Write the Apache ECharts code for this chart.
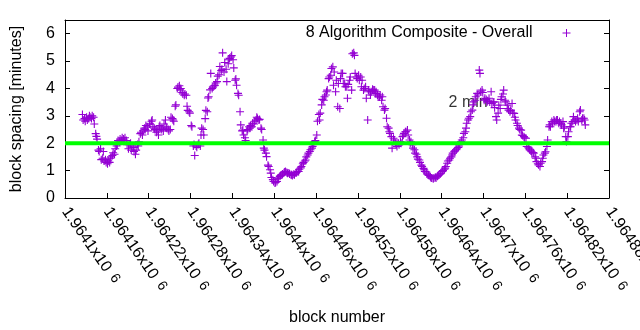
<!DOCTYPE html>
<html>
<head>
<meta charset="utf-8">
<script src="https://cdn.jsdelivr.net/npm/echarts@6/dist/echarts.min.js"></script>
<style>
  html, body { margin: 0; padding: 0; background: #fff; }
  #chart { width: 640px; height: 330px; }
</style>
</head>
<body>
<div id="chart"></div>
<script>
// Block spacing (minutes) of the 8-algorithm composite, per block.
const SERIES_NAME = '8 Algorithm Composite - Overall';

const blockNumbers = [
  1964125,1964126,1964128,1964129,1964131,1964132,1964134,
  1964135,1964136,1964138,1964139,1964141,1964142,1964144,
  1964145,1964146,1964148,1964149,1964151,1964152,1964154,
  1964155,1964156,1964158,1964159,1964161,1964162,1964164,
  1964165,1964166,1964168,1964169,1964171,1964172,1964174,
  1964175,1964176,1964178,1964179,1964181,1964182,1964184,
  1964185,1964186,1964188,1964189,1964191,1964192,1964194,
  1964195,1964196,1964198,1964199,1964201,1964202,1964204,
  1964205,1964206,1964208,1964209,1964211,1964212,1964214,
  1964215,1964216,1964218,1964219,1964221,1964222,1964224,
  1964225,1964226,1964228,1964229,1964231,1964232,1964234,
  1964235,1964236,1964238,1964239,1964241,1964242,1964244,
  1964245,1964246,1964248,1964249,1964251,1964252,1964254,
  1964255,1964256,1964258,1964259,1964261,1964262,1964264,
  1964265,1964266,1964268,1964269,1964271,1964272,1964274,
  1964275,1964276,1964278,1964279,1964281,1964282,1964284,
  1964285,1964286,1964288,1964289,1964291,1964292,1964294,
  1964295,1964296,1964298,1964299,1964301,1964302,1964304,
  1964305,1964306,1964308,1964309,1964311,1964312,1964314,
  1964315,1964316,1964318,1964319,1964321,1964322,1964324,
  1964325,1964326,1964328,1964329,1964331,1964332,1964334,
  1964335,1964336,1964338,1964339,1964341,1964342,1964344,
  1964345,1964346,1964348,1964349,1964351,1964352,1964354,
  1964355,1964356,1964358,1964359,1964361,1964362,1964364,
  1964365,1964366,1964368,1964369,1964371,1964372,1964374,
  1964375,1964376,1964378,1964379,1964381,1964382,1964384,
  1964385,1964386,1964388,1964389,1964391,1964392,1964394,
  1964395,1964396,1964398,1964399,1964401,1964402,1964404,
  1964405,1964406,1964408,1964409,1964411,1964412,1964414,
  1964415,1964416,1964418,1964419,1964421,1964422,1964424,
  1964425,1964426,1964428,1964429,1964431,1964432,1964434,
  1964435,1964436,1964438,1964439,1964441,1964442,1964444,
  1964445,1964446,1964448,1964449,1964451,1964452,1964454,
  1964455,1964456,1964458,1964459,1964461,1964462,1964464,
  1964465,1964466,1964468,1964469,1964471,1964472,1964474,
  1964475,1964476,1964478,1964479,1964481,1964482,1964484,
  1964485,1964486,1964488,1964489,1964491,1964492,1964494,
  1964495,1964496,1964498,1964499,1964501,1964502,1964504,
  1964505,1964506,1964508,1964509,1964511,1964512,1964514,
  1964515,1964516,1964518,1964519,1964521,1964522,1964524,
  1964525,1964526,1964528,1964529,1964531,1964532,1964534,
  1964535,1964536,1964538,1964539,1964541,1964542,1964544,
  1964545,1964546,1964548,1964549,1964551,1964552,1964554,
  1964555,1964556,1964558,1964559,1964561,1964562,1964564,
  1964565,1964566,1964568,1964569,1964571,1964572,1964574,
  1964575,1964576,1964578,1964579,1964581,1964582,1964584,
  1964585,1964586,1964588,1964589,1964591,1964592,1964594,
  1964595,1964596,1964598,1964599,1964601,1964602,1964604,
  1964605,1964606,1964608,1964609,1964611,1964612,1964614,
  1964615,1964616,1964618,1964619,1964621,1964622,1964624,
  1964625,1964626,1964628,1964629,1964631,1964632,1964634,
  1964635,1964636,1964638,1964639,1964641,1964642,1964644,
  1964645,1964646,1964648,1964649,1964651,1964652,1964654,
  1964655,1964656,1964658,1964659,1964661,1964662,1964664,
  1964665,1964666,1964668,1964669,1964671,1964672,1964674,
  1964675,1964676,1964678,1964679,1964681,1964682,1964684,
  1964685,1964686,1964688,1964689,1964691,1964692,1964694,
  1964695,1964696,1964698,1964699,1964701,1964702,1964704,
  1964705,1964706,1964708,1964709,1964711,1964712,1964714,
  1964715,1964716,1964718,1964719,1964721,1964722,1964724,
  1964725,1964726,1964728,1964729,1964731,1964732,1964734,
  1964735,1964736,1964738,1964739,1964741,1964742,1964744,
  1964745,1964746,1964748,1964749,1964751,1964752,1964754,
  1964755,1964756,1964758,1964759,1964761,1964762,1964764,
  1964765,1964766,1964768,1964769,1964771,1964772,1964774,
  1964775,1964776,1964778,1964779,1964781,1964782,1964784,
  1964785,1964786,1964788,1964789,1964791,1964792,1964794,
  1964795,1964796,1964798,1964799,1964801,1964802,1964804,
  1964805,1964806,1964808,1964809,1964811,1964812,1964814,
  1964815,1964816,1964818,1964819,1964821,1964822,1964824,
  1964825,1964826,1964828,1964829,1964831,1964832,1964834,
  1964835,1964836,1964838,1964839,1964841,1964842,1964844,
  1964845,1964846
];

const spacingMinutes = [
  3.05,2.85,2.9,2.8,2.95,2.85,2.9,
  3.0,2.95,2.9,3.0,2.95,2.7,2.35,
  2.25,2.15,1.75,1.7,1.8,1.4,1.45,
  1.7,1.35,1.4,1.3,1.25,1.35,1.3,
  1.45,1.5,1.55,1.65,1.6,1.8,1.9,
  1.95,2.1,2.05,2.15,2.1,2.2,2.15,
  2.1,2.2,2.1,1.95,1.8,1.95,2.0,
  1.75,1.9,1.85,1.7,1.6,1.75,1.95,
  1.9,2.05,2.35,2.4,2.3,2.45,2.55,
  2.5,2.65,2.6,2.45,2.7,2.7,2.8,
  2.85,2.6,2.55,2.5,2.4,2.45,2.3,
  2.6,2.65,2.5,2.55,2.45,2.7,2.85,
  2.6,2.55,2.5,2.45,2.5,2.95,2.9,
  2.85,2.8,3.35,3.4,4.0,4.05,4.1,
  3.95,4.0,3.85,3.8,3.75,3.8,3.75,
  3.35,3.2,3.15,3.1,2.65,2.6,1.9,
  1.95,1.55,1.9,1.85,1.95,2.0,1.9,
  2.3,2.55,2.5,2.3,2.9,3.2,3.15,
  3.65,3.7,3.95,4.55,4.0,4.05,4.1,
  4.12,4.2,4.25,4.45,4.5,4.8,4.65,
  4.7,5.3,4.6,4.95,4.7,4.25,4.9,
  5.05,5.1,5.15,5.2,5.05,4.75,4.3,
  4.35,4.12,3.82,3.75,3.15,2.67,2.45,
  2.48,2.3,2.2,2.1,2.45,2.5,2.6,
  2.55,2.65,2.6,2.73,2.7,2.8,2.85,
  2.95,2.9,2.85,2.87,2.55,2.5,2.12,
  1.82,1.75,1.64,1.51,1.2,1.15,1.03,
  0.91,0.75,0.67,0.6,0.55,0.57,0.6,
  0.72,0.73,0.79,0.82,0.85,0.88,0.92,
  0.95,0.97,0.93,0.9,0.91,0.88,0.85,
  0.85,0.82,0.87,0.85,0.91,0.93,0.97,
  0.97,1.05,1.1,1.15,1.25,1.3,1.35,
  1.39,1.5,1.57,1.64,1.7,1.76,1.82,
  1.88,1.95,2.06,2.1,2.3,2.8,3.05,
  2.85,3.1,3.4,3.6,3.57,3.7,3.76,
  3.88,3.94,4.36,4.42,4.48,4.73,4.79,
  4.12,4.6,3.88,4.3,3.33,4.18,3.27,
  4.36,4.55,4.55,4.18,4.18,4.06,4.06,
  3.64,4.15,4.3,4.42,3.94,5.27,5.3,
  5.21,4.55,4.42,4.36,4.48,4.3,4.42,
  4.06,4.3,3.94,4.0,4.06,3.64,2.85,
  3.94,3.88,3.76,3.88,3.97,3.94,3.94,
  3.82,3.88,3.76,3.7,3.69,3.76,3.57,
  3.7,3.33,3.21,3.27,2.91,2.6,2.55,
  2.42,2.36,2.24,1.82,2.18,2.12,2.0,
  1.94,1.88,2.0,1.94,2.06,2.0,2.24,
  2.3,2.36,2.42,2.42,2.48,2.3,2.12,
  2.0,2.05,1.95,1.82,1.76,1.64,1.6,
  1.5,1.42,1.39,1.3,1.2,1.15,1.08,
  1.03,0.97,0.95,0.88,0.85,0.82,0.78,
  0.73,0.73,0.7,0.73,0.76,0.73,0.79,
  0.82,0.85,0.88,0.91,0.97,1.0,1.05,
  1.09,1.15,1.27,1.35,1.39,1.45,1.5,
  1.57,1.64,1.69,1.72,1.76,1.8,1.85,
  1.9,2.0,2.06,2.12,2.2,2.36,2.42,
  2.55,2.73,2.85,2.91,2.97,3.15,3.21,
  3.4,3.51,3.57,3.7,3.82,3.76,4.67,
  4.55,3.88,3.94,3.85,3.57,3.64,3.6,
  3.51,3.55,3.64,3.51,3.88,3.45,3.5,
  3.51,3.3,2.97,2.85,3.1,3.39,3.27,
  3.6,3.7,3.8,3.94,3.57,3.51,3.39,
  3.27,3.21,3.15,3.2,3.45,3.1,3.09,
  2.95,2.85,2.73,2.65,2.55,2.5,2.48,
  2.3,2.28,2.24,2.2,2.18,1.88,1.86,
  1.82,1.76,1.72,1.69,1.66,1.64,1.5,
  1.45,1.33,1.25,1.21,1.15,1.27,1.33,
  1.45,1.57,1.64,1.69,1.88,2.12,2.6,
  2.67,2.6,2.79,2.73,2.85,2.79,2.79,
  2.85,2.85,2.73,2.79,2.73,2.67,2.79,
  2.55,2.6,2.24,2.06,2.24,2.42,2.6,
  2.6,2.73,2.79,2.97,2.85,2.79,2.85,
  2.91,2.79,3.15,3.21,2.85,2.91,2.91,
  2.85,2.67
];

// Reference level and its annotation
const targetMinutes = 2;
const targetLabel = '2 min';
const targetLabelBlock = 1964650;
const targetLabelMinutes = 3.5;

// Axis ranges and tick steps
const xMin = 1964100, xMax = 1964880, xStep = 60;
const yMin = 0, yMax = 6.5, yStep = 1;
const xExponent = 6;

const FONT = '"Liberation Sans", Arial, sans-serif';
const PURPLE = '#9400d3';
const GREEN = '#00ff00';
const PLUS = 'path://M0,5L10,5M5,0L5,10';

const points = blockNumbers.map((b, i) => [b, spacingMinutes[i]]);

function xTickLabel(v) {
  const mant = parseFloat((v / Math.pow(10, xExponent)).toFixed(6));
  return '{m|' + mant + 'x10}{e|' + xExponent + '}';
}

const chart = echarts.init(document.getElementById('chart'), null, { renderer: 'canvas' });

chart.setOption({
  animation: false,
  backgroundColor: '#fff',
  textStyle: { fontFamily: FONT, color: '#000' },
  grid: { left: 65, right: 31, top: 20, bottom: 132, containLabel: false, outerBoundsMode: 'none' },
  legend: {
    data: [SERIES_NAME],
    right: 64, top: 20,
    align: 'right',
    itemWidth: 58, itemHeight: 8,
    icon: PLUS,
    selectedMode: false,
    textStyle: { fontFamily: FONT, fontSize: 16, color: '#000' },
    itemStyle: { color: 'rgba(0,0,0,0)', borderColor: PURPLE, borderWidth: 1 }
  },
  xAxis: [{
    type: 'value', min: xMin, max: xMax, interval: xStep, position: 'bottom',
    axisLine: { show: true, onZero: false, lineStyle: { color: '#000', width: 1 } },
    axisTick: { show: true, inside: true, length: 5, lineStyle: { color: '#000' } },
    splitLine: { show: false },
    axisLabel: {
      rotate: -55, margin: 11, color: '#000', fontFamily: FONT, fontSize: 16,
      formatter: xTickLabel,
      rich: {
        m: { fontFamily: FONT, fontSize: 16, color: '#000' },
        e: { fontFamily: FONT, fontSize: 14, color: '#000', verticalAlign: 'top', padding: [0, 0, 0, 7] }
      }
    },
    name: 'block number', nameLocation: 'middle', nameGap: 112,
    nameTextStyle: { fontFamily: FONT, fontSize: 16, color: '#000' }
  }, {
    type: 'value', min: xMin, max: xMax, interval: xStep, position: 'top',
    axisLine: { show: true, onZero: false, lineStyle: { color: '#000', width: 1 } },
    axisTick: { show: false }, axisLabel: { show: false }, splitLine: { show: false }
  }],
  yAxis: [{
    type: 'value', min: yMin, max: yMax, interval: yStep, position: 'left',
    axisLine: { show: true, onZero: false, lineStyle: { color: '#000', width: 1 } },
    axisTick: { show: true, inside: true, length: 5, lineStyle: { color: '#000' } },
    splitLine: { show: false },
    axisLabel: { margin: 10, color: '#000', fontFamily: FONT, fontSize: 16, showMaxLabel: false },
    name: 'block spacing [minutes]', nameLocation: 'middle', nameGap: 40,
    nameTextStyle: { fontFamily: FONT, fontSize: 16, color: '#000' }
  }, {
    type: 'value', min: yMin, max: yMax, interval: yStep, position: 'right',
    axisLine: { show: true, onZero: false, lineStyle: { color: '#000', width: 1 } },
    axisTick: { show: true, inside: true, length: 5, lineStyle: { color: '#000' } },
    axisLabel: { show: false }, splitLine: { show: false }
  }],
  series: [{
    name: 'annotation',
    type: 'scatter',
    data: [[targetLabelBlock, targetLabelMinutes]],
    symbolSize: 0,
    silent: true,
    z: 1,
    label: {
      show: true, position: 'right', distance: 0, formatter: targetLabel,
      fontFamily: FONT, fontSize: 16, color: '#000'
    }
  }, {
    name: SERIES_NAME,
    type: 'scatter',
    data: points,
    symbol: PLUS,
    symbolSize: 8,
    z: 2,
    itemStyle: { color: 'rgba(0,0,0,0)', borderColor: PURPLE, borderWidth: 1.1, opacity: 1 }
  }, {
    name: 'target',
    type: 'line',
    data: [[xMin, targetMinutes], [xMax, targetMinutes]],
    symbol: 'none',
    silent: true,
    z: 3,
    lineStyle: { color: GREEN, width: 4 }
  }]
});
</script>
</body>
</html>
